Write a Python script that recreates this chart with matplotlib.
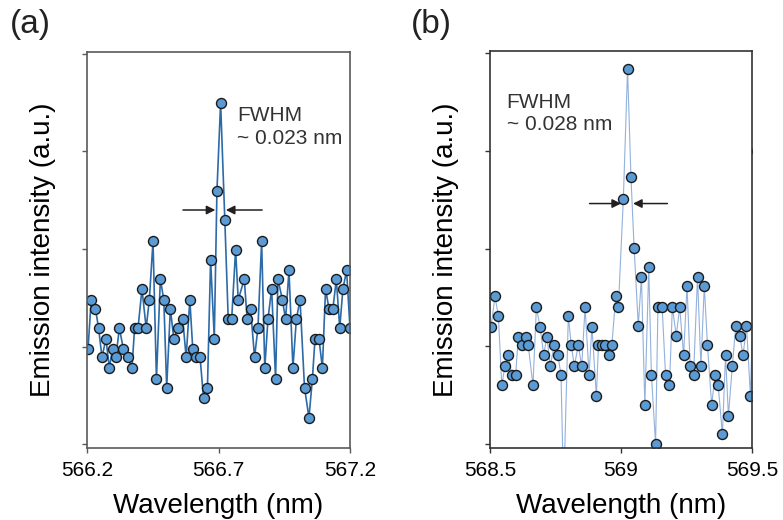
import matplotlib
matplotlib.use("Agg")
import matplotlib.pyplot as plt

plt.rcParams["font.family"] = ["Liberation Sans", "DejaVu Sans"]

# panel (a): wavelength (nm) and emission intensity (a.u.)
wl_a = [566.204, 566.216, 566.232, 566.244, 566.257, 566.272, 566.285, 566.297, 566.310, 566.323,
        566.338, 566.356, 566.371, 566.381, 566.394, 566.409, 566.425, 566.437, 566.451, 566.464,
        566.479, 566.492, 566.503, 566.517, 566.530, 566.545, 566.564, 566.577, 566.591, 566.602,
        566.616, 566.630, 566.643, 566.658, 566.670, 566.684, 566.694, 566.708, 566.724, 566.737,
        566.750, 566.765, 566.775, 566.798, 566.809, 566.822, 566.837, 566.850, 566.864, 566.876,
        566.888, 566.902, 566.917, 566.926, 566.943, 566.955, 566.968, 566.983, 566.996, 567.010,
        567.027, 567.044, 567.057, 567.067, 567.082, 567.095, 567.107, 567.120, 567.135, 567.148,
        567.161, 567.173, 567.187, 567.200]
int_a = [0.98, 1.48, 1.39, 1.19, 0.89, 1.08, 0.78, 0.98, 0.89, 1.19,
         0.98, 0.89, 0.78, 1.19, 1.19, 1.59, 1.19, 1.48, 2.08, 0.67,
         1.69, 1.48, 0.58, 1.39, 1.08, 1.19, 1.28, 0.89, 1.48, 0.98,
         0.89, 0.89, 0.47, 0.58, 1.89, 1.08, 2.59, 3.50, 2.30, 1.28,
         1.28, 1.99, 1.48, 1.69, 1.28, 1.39, 0.89, 1.19, 2.08, 0.78,
         1.28, 1.59, 0.67, 1.69, 1.48, 1.28, 1.78, 0.78, 1.28, 1.48,
         0.58, 0.27, 0.67, 1.08, 1.08, 0.78, 1.59, 1.39, 1.39, 1.69,
         1.19, 1.59, 1.78, 1.19]

# panel (b)
wl_b = [568.504, 568.519, 568.532, 568.545, 568.557, 568.570, 568.583, 568.598, 568.608, 568.621,
        568.636, 568.646, 568.664, 568.677, 568.691, 568.705, 568.717, 568.730, 568.745, 568.759,
        568.771, 568.781, 568.799, 568.810, 568.822, 568.837, 568.850, 568.863, 568.878, 568.889,
        568.906, 568.914, 568.927, 568.939, 568.955, 568.965, 568.980, 568.990, 569.009, 569.025,
        569.038, 569.050, 569.066, 569.078, 569.091, 569.106, 569.116, 569.132, 569.141, 569.157,
        569.170, 569.185, 569.196, 569.211, 569.224, 569.239, 569.252, 569.264, 569.277, 569.292,
        569.305, 569.318, 569.330, 569.346, 569.359, 569.371, 569.387, 569.399, 569.410, 569.425,
        569.438, 569.453, 569.466, 569.479, 569.494, 569.520]
int_b = [1.20, 1.51, 1.31, 0.60, 0.80, 0.91, 0.71, 0.71, 1.10, 1.01,
         1.10, 1.01, 0.60, 1.40, 1.20, 0.91, 1.10, 0.80, 1.01, 0.91,
         0.71, -0.50, 1.31, 1.01, 0.80, 1.01, 0.80, 1.40, 0.71, 1.20,
         0.49, 1.01, 1.01, 1.01, 0.91, 1.01, 1.51, 1.40, 2.51, 3.84,
         2.73, 2.01, 1.21, 1.71, 0.40, 1.81, 0.71, 0.00, 1.40, 1.40,
         0.71, 0.60, 1.40, 1.11, 1.40, 0.91, 1.62, 0.80, 0.71, 1.71,
         0.80, 1.62, 1.01, 0.40, 0.71, 0.60, 0.10, 0.91, 0.29, 0.80,
         1.21, 1.11, 0.91, 1.21, 0.49, 3.00]

xticks_a = [566.2, 566.7, 567.2]
xlabels_a = ["566.2", "566.7", "567.2"]
xticks_b = [568.5, 569.0, 569.5]
xlabels_b = ["568.5", "569", "569.5"]

fig = plt.figure(figsize=(7.83, 5.2), dpi=100)
ax_a = fig.add_axes([87 / 783, 72 / 520, 263 / 783, 396 / 520])
ax_b = fig.add_axes([490 / 783, 72 / 520, 262 / 783, 397 / 520])

ax_a.plot(wl_a, int_a, color="#2c6aa8", lw=1.2, marker="o", ms=7.2,
          mfc="#5b9bd5", mec="#1a1a1a", mew=1.0)
ax_b.plot(wl_b, int_b, color="#92b1dc", lw=0.8, marker="o", ms=7.2,
          mfc="#5b9bd5", mec="#1a1a1a", mew=1.0)

for ax, ticks, labels, xlim, spine_col in [
        (ax_a, xticks_a, xlabels_a, (566.2, 567.2), "#5a5a5a"),
        (ax_b, xticks_b, xlabels_b, (568.5, 569.5), "#333333")]:
    ax.set_xlim(*xlim)
    ax.set_ylim(-0.04, 4.02)
    ax.set_xticks(ticks)
    ax.set_xticklabels(labels)
    ax.set_yticks([0, 1, 2, 3, 4])
    ax.set_yticklabels([])
    ax.tick_params(direction="out", length=3.5, width=1, labelsize=15,
                   color=spine_col, pad=6)
    for s in ax.spines.values():
        s.set_color(spine_col)
        s.set_linewidth(1.2)
    ax.set_xlabel("Wavelength (nm)", fontsize=20, labelpad=9)
    ax.set_ylabel("Emission intensity (a.u.)", fontsize=20, labelpad=13)

# FWHM annotations
arrow_kw = dict(arrowstyle="-|>", color="#231f20", lw=1.1, mutation_scale=13,
                shrinkA=0, shrinkB=0)
ax_a.annotate("", xy=(566.688, 2.40), xytext=(566.565, 2.40), arrowprops=arrow_kw)
ax_a.annotate("", xy=(566.728, 2.40), xytext=(566.866, 2.40), arrowprops=arrow_kw)
ax_a.text(566.771, 3.25, "FWHM\n~ 0.023 nm", fontsize=15, color="#333333",
          va="center", ha="left", linespacing=1.25)

ax_b.annotate("", xy=(569.000, 2.46), xytext=(568.880, 2.46), arrowprops=arrow_kw)
ax_b.annotate("", xy=(569.046, 2.46), xytext=(569.177, 2.46), arrowprops=arrow_kw)
ax_b.text(568.563, 3.38, "FWHM\n~ 0.028 nm", fontsize=15, color="#333333",
          va="center", ha="left", linespacing=1.25)

fig.text(10 / 783, 1 - 25 / 520, "(a)", fontsize=24, va="center", ha="left", color="#222222")
fig.text(411 / 783, 1 - 25 / 520, "(b)", fontsize=24, va="center", ha="left", color="#222222")

fig.savefig("out.png", dpi=100)
